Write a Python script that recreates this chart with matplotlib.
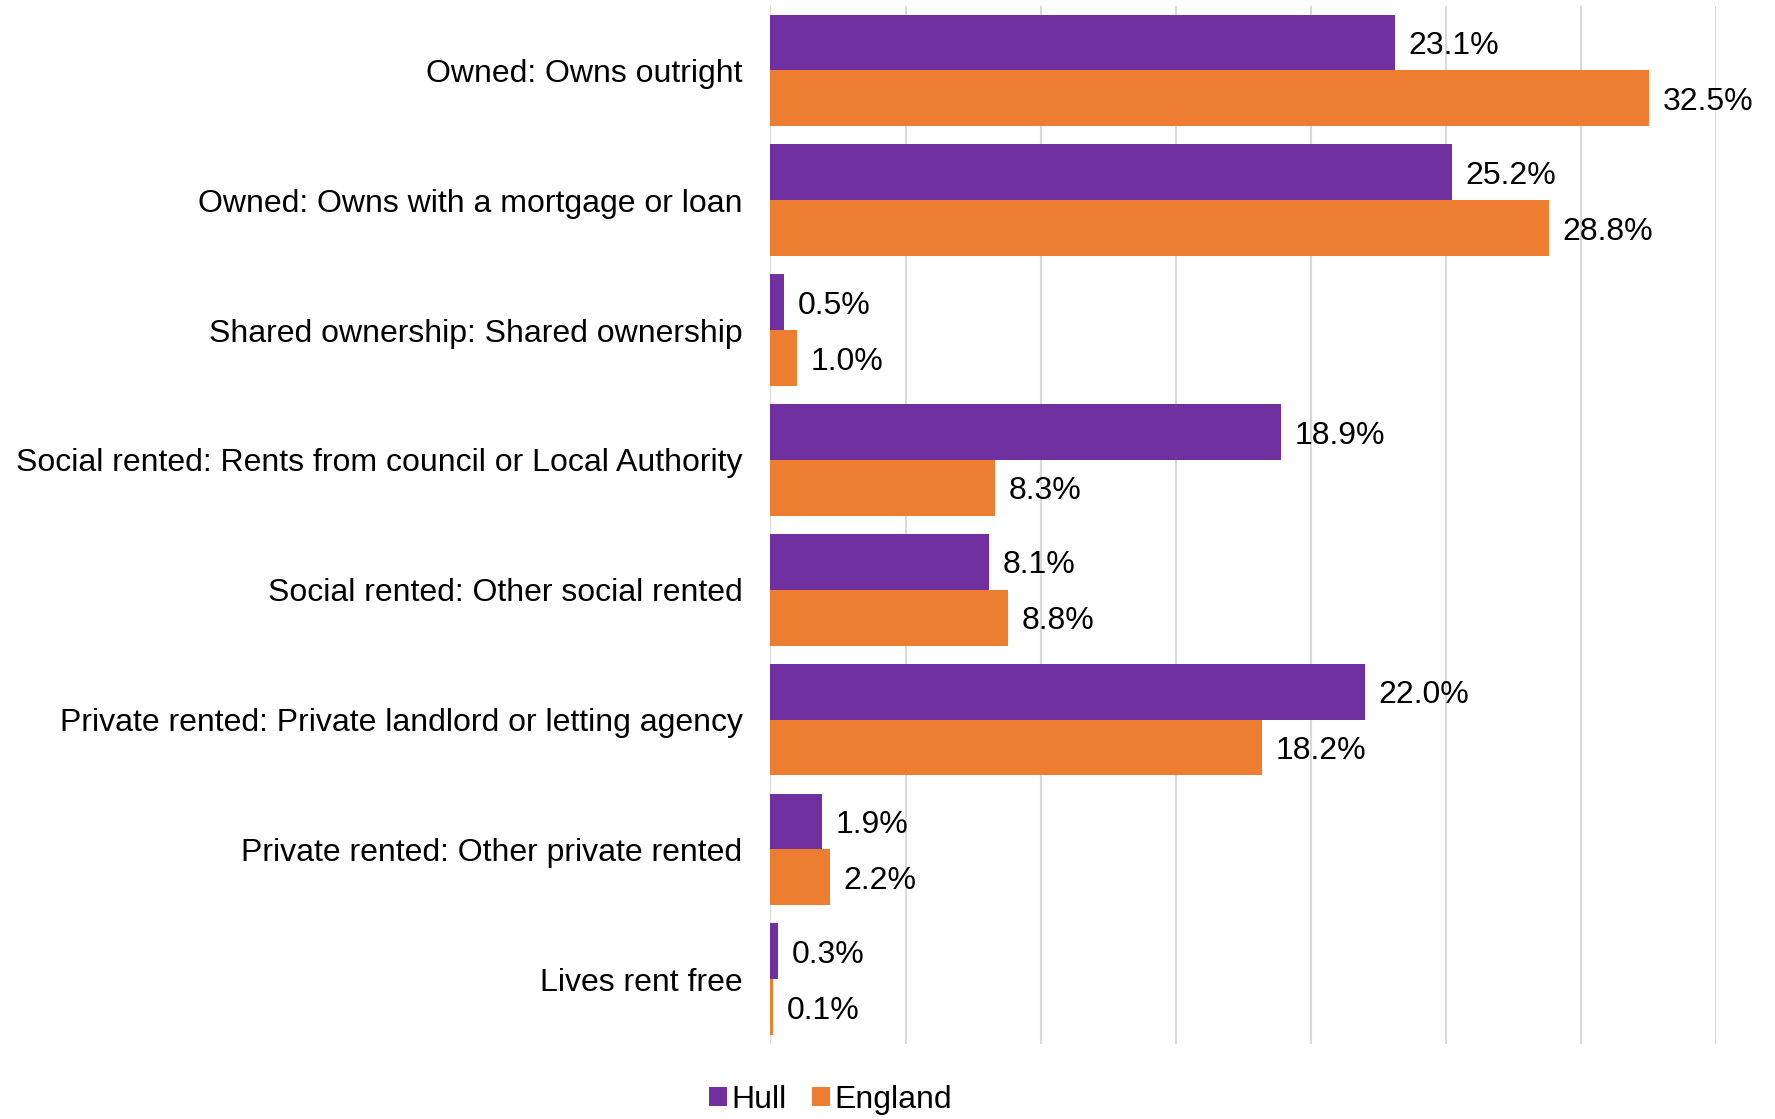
import numpy as np
import matplotlib.pyplot as plt

plt.rcParams['font.family'] = ['Liberation Sans', 'DejaVu Sans']

categories = [
    'Owned: Owns outright',
    'Owned: Owns with a mortgage or loan',
    'Shared ownership: Shared ownership',
    'Social rented: Rents from council or Local Authority',
    'Social rented: Other social rented',
    'Private rented: Private landlord or letting agency',
    'Private rented: Other private rented',
    'Lives rent free',
]
hull = [23.1, 25.2, 0.5, 18.9, 8.1, 22.0, 1.9, 0.3]
england = [32.5, 28.8, 1.0, 8.3, 8.8, 18.2, 2.2, 0.1]

purple = '#7030A0'
orange = '#ED7D31'
fs = 23

fig = plt.figure(figsize=(17.75, 11.19), dpi=100)
ax = fig.add_axes([0.434, 0.067, 0.533, 0.928])

y = np.arange(len(categories))
h = 0.43
ax.barh(y - h / 2, hull, height=h, color=purple, label='Hull', zorder=3)
ax.barh(y + h / 2, england, height=h, color=orange, label='England', zorder=3)

for yi, v in zip(y, hull):
    ax.text(v + 0.5, yi - h / 2, f'{v:.1f}%', va='center_baseline', ha='left', fontsize=fs)
for yi, v in zip(y, england):
    ax.text(v + 0.5, yi + h / 2, f'{v:.1f}%', va='center_baseline', ha='left', fontsize=fs)

ax.set_xlim(0, 35)
ax.set_ylim(len(categories) - 0.5, -0.5)
ax.set_xticks(np.arange(0, 36, 5))
ax.set_xticklabels([])
ax.tick_params(axis='x', length=0)
ax.set_yticks(y)
ax.set_yticklabels(categories, fontsize=fs)
ax.tick_params(axis='y', length=0, pad=20)
ax.grid(axis='x', color='#D9D9D9', linewidth=1.5, zorder=0)
for s in ax.spines.values():
    s.set_visible(False)

fig.legend(loc='center', bbox_to_anchor=(0.468, 0.017), ncol=2, frameon=False,
           fontsize=fs, handlelength=0.55, handleheight=0.55, handletextpad=0.15,
           columnspacing=0.8)

fig.savefig('out.png', dpi=100)
